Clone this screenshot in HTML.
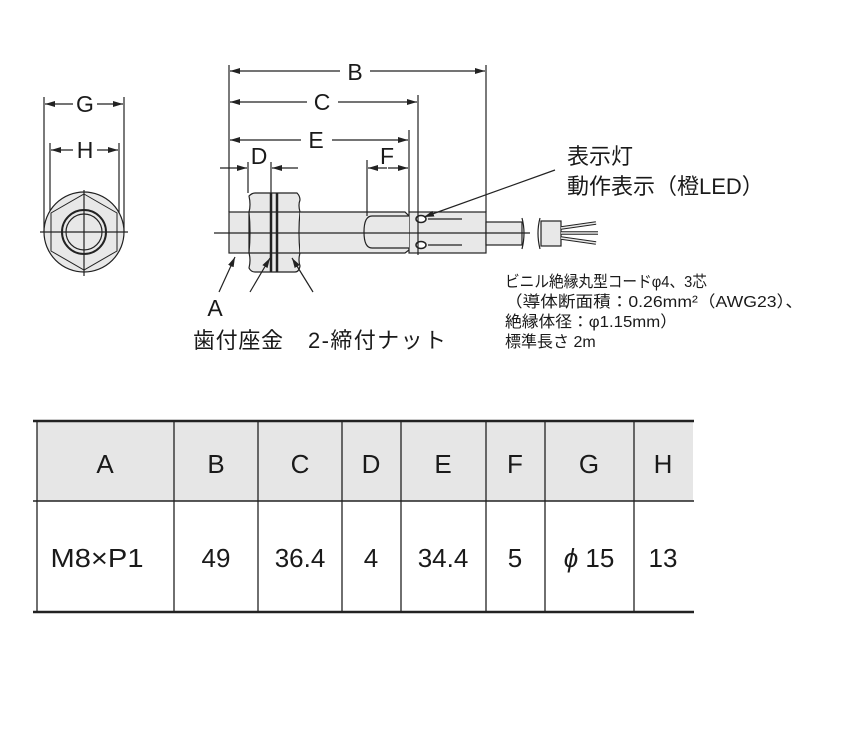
<!DOCTYPE html>
<html><head><meta charset="utf-8"><style>
html,body{margin:0;padding:0;background:#fff;}
svg{display:block;}
text{font-family:"Liberation Sans","Noto Sans CJK JP",sans-serif;fill:#1a1a1a;}
</style></head><body>
<svg width="848" height="741" viewBox="0 0 848 741" xmlns="http://www.w3.org/2000/svg">
<defs>
<marker id="ar" viewBox="0 0 10 6" refX="10" refY="3" markerWidth="10" markerHeight="6" orient="auto" markerUnits="userSpaceOnUse"><path d="M0,0 L10,3 L0,6 z" fill="#222"/></marker>
</defs>
<g stroke="#222" stroke-width="1.2" fill="none">
<line x1="44" y1="97" x2="44" y2="232"/>
<line x1="124" y1="97" x2="124" y2="232"/>
<line x1="50" y1="143" x2="50" y2="232"/>
<line x1="119" y1="143" x2="119" y2="232"/>
<line x1="73" y1="104" x2="45" y2="104" marker-end="url(#ar)"/>
<line x1="97" y1="104" x2="123" y2="104" marker-end="url(#ar)"/>
<line x1="73" y1="150" x2="51" y2="150" marker-end="url(#ar)"/>
<line x1="97" y1="150" x2="118" y2="150" marker-end="url(#ar)"/>
<circle cx="84" cy="232" r="40" fill="#e8e8e8"/>
<polygon points="84,194 117,213 117,251 84,270 51,251 51,213" stroke-width="1"/>
<circle cx="84" cy="232" r="22" stroke-width="2"/>
<circle cx="84" cy="232" r="18" fill="#e8e8e8"/>
<line x1="40" y1="232" x2="128" y2="232"/>
<line x1="84" y1="190" x2="84" y2="276"/>

<rect x="229" y="212" width="20" height="41" fill="#e8e8e8"/>
<path d="M249,196 Q252,193 255,193 L297,193 Q300,196 300,200 Q298,205 300,212 Q298,232 300,253 Q298,260 300,266 Q299,272 295,272 L255,272 Q251,272 249,268 Q251,260 249,253 Q251,232 249,212 Q251,205 249,196 z" fill="#e8e8e8"/>
<line x1="249" y1="212" x2="300" y2="212"/>
<line x1="249" y1="253" x2="300" y2="253"/>
<line x1="271" y1="193" x2="271" y2="272" stroke-width="2.5"/>
<line x1="277" y1="193" x2="277" y2="272" stroke-width="2.5"/>
<path d="M300,212 L405,212 L409,216 L409,250 L405,253 L300,253" fill="#e8e8e8"/>
<rect x="409" y="212" width="77" height="41" fill="#e8e8e8"/>
<path d="M409,216 L372,216 Q364,216 364,232 Q364,248 372,248 L409,248" fill="#e8e8e8"/>
<rect x="486" y="222" width="36" height="23" fill="#e8e8e8"/>
<path d="M522,218 Q526,233 522,249" />
<path d="M540,218 Q536,233 540,249" />
<rect x="541" y="221" width="20" height="25" fill="#e8e8e8"/>
<path d="M561,228 L596,223 M561,233 L598,233 M561,238 L596,243" stroke-width="3.5"/>
<path d="M561,228 L596,223 M561,233 L598,233 M561,238 L596,243" stroke="#e8e8e8" stroke-width="1.5"/>
<ellipse cx="421" cy="219" rx="5" ry="3.5" fill="#fff" stroke-width="1.5"/>
<ellipse cx="421" cy="245" rx="5" ry="3.5" fill="#fff" stroke-width="1.5"/>
<line x1="428" y1="219" x2="462" y2="219"/>
<line x1="428" y1="245" x2="462" y2="245"/>
<line x1="214" y1="233" x2="530" y2="233"/>

<line x1="229" y1="65" x2="229" y2="212"/>
<line x1="486" y1="65" x2="486" y2="212"/>
<line x1="418" y1="95" x2="418" y2="255"/>
<line x1="409" y1="130" x2="409" y2="212"/>
<line x1="367" y1="160" x2="367" y2="216"/>
<line x1="248" y1="162" x2="248" y2="193"/>
<line x1="271" y1="162" x2="271" y2="193"/>
<line x1="340" y1="71" x2="230" y2="71" marker-end="url(#ar)"/>
<line x1="370" y1="71" x2="485" y2="71" marker-end="url(#ar)"/>
<line x1="307" y1="102" x2="230" y2="102" marker-end="url(#ar)"/>
<line x1="338" y1="102" x2="417" y2="102" marker-end="url(#ar)"/>
<line x1="301" y1="140" x2="230" y2="140" marker-end="url(#ar)"/>
<line x1="332" y1="140" x2="408" y2="140" marker-end="url(#ar)"/>
<line x1="220" y1="168" x2="247" y2="168" marker-end="url(#ar)"/>
<line x1="298" y1="168" x2="272" y2="168" marker-end="url(#ar)"/>
<line x1="387" y1="168" x2="368" y2="168" marker-end="url(#ar)"/>
<line x1="388" y1="168" x2="408" y2="168" marker-end="url(#ar)"/>
<line x1="555" y1="170" x2="424" y2="217" marker-end="url(#ar)"/>
<line x1="219" y1="292" x2="235" y2="257" marker-end="url(#ar)"/>
<line x1="250" y1="292" x2="270" y2="258" marker-end="url(#ar)"/>
<line x1="313" y1="292" x2="292" y2="258" marker-end="url(#ar)"/>
</g>
<g font-size="23" text-anchor="middle">
<text x="85" y="112">G</text>
<text x="85" y="158">H</text>
<text x="355" y="80">B</text>
<text x="322" y="110">C</text>
<text x="316" y="148">E</text>
<text x="259" y="164">D</text>
<text x="387" y="164">F</text>
<text x="215" y="316">A</text>
</g>
<text x="193" y="348" font-size="22" textLength="90">歯付座金</text>
<text x="308" y="348" font-size="22" textLength="138">2-締付ナット</text>
<text x="567" y="164" font-size="22">表示灯</text>
<text x="567" y="194" font-size="22">動作表示（橙LED）</text>
<g font-size="16">
<text x="505" y="287" textLength="202" lengthAdjust="spacingAndGlyphs">ビニル絶縁丸型コードφ4、3芯</text>
<text x="505" y="307" textLength="298" lengthAdjust="spacingAndGlyphs">（導体断面積：0.26mm²（AWG23）、</text>
<text x="505" y="327" textLength="172" lengthAdjust="spacingAndGlyphs">絶縁体径：φ1.15mm）</text>
<text x="505" y="347">標準長さ 2m</text>
</g>

<rect x="37" y="421" width="656" height="80" fill="#e6e6e6"/>
<g stroke="#222" fill="none">
<line x1="33" y1="421" x2="694" y2="421" stroke-width="2.5"/>
<line x1="33" y1="501" x2="694" y2="501" stroke-width="1.5"/>
<line x1="33" y1="612" x2="694" y2="612" stroke-width="2.5"/>
<g stroke-width="1.3">
<line x1="37" y1="420" x2="37" y2="612"/>
<line x1="174" y1="421" x2="174" y2="612"/>
<line x1="258" y1="421" x2="258" y2="612"/>
<line x1="342" y1="421" x2="342" y2="612"/>
<line x1="401" y1="421" x2="401" y2="612"/>
<line x1="486" y1="421" x2="486" y2="612"/>
<line x1="545" y1="421" x2="545" y2="612"/>
<line x1="634" y1="421" x2="634" y2="612"/>
</g>
</g>
<g font-size="26" text-anchor="middle">
<text x="105" y="473">A</text>
<text x="216" y="473">B</text>
<text x="300" y="473">C</text>
<text x="371" y="473">D</text>
<text x="443" y="473">E</text>
<text x="515" y="473">F</text>
<text x="589" y="473">G</text>
<text x="663" y="473">H</text>
<text x="97" y="567" textLength="93" lengthAdjust="spacingAndGlyphs">M8×P1</text>
<text x="216" y="567">49</text>
<text x="300" y="567">36.4</text>
<text x="371" y="567">4</text>
<text x="443" y="567">34.4</text>
<text x="515" y="567">5</text>
<text x="589" y="567"><tspan font-style="italic">ϕ</tspan> 15</text>
<text x="663" y="567">13</text>
</g>
</svg>
</body></html>
